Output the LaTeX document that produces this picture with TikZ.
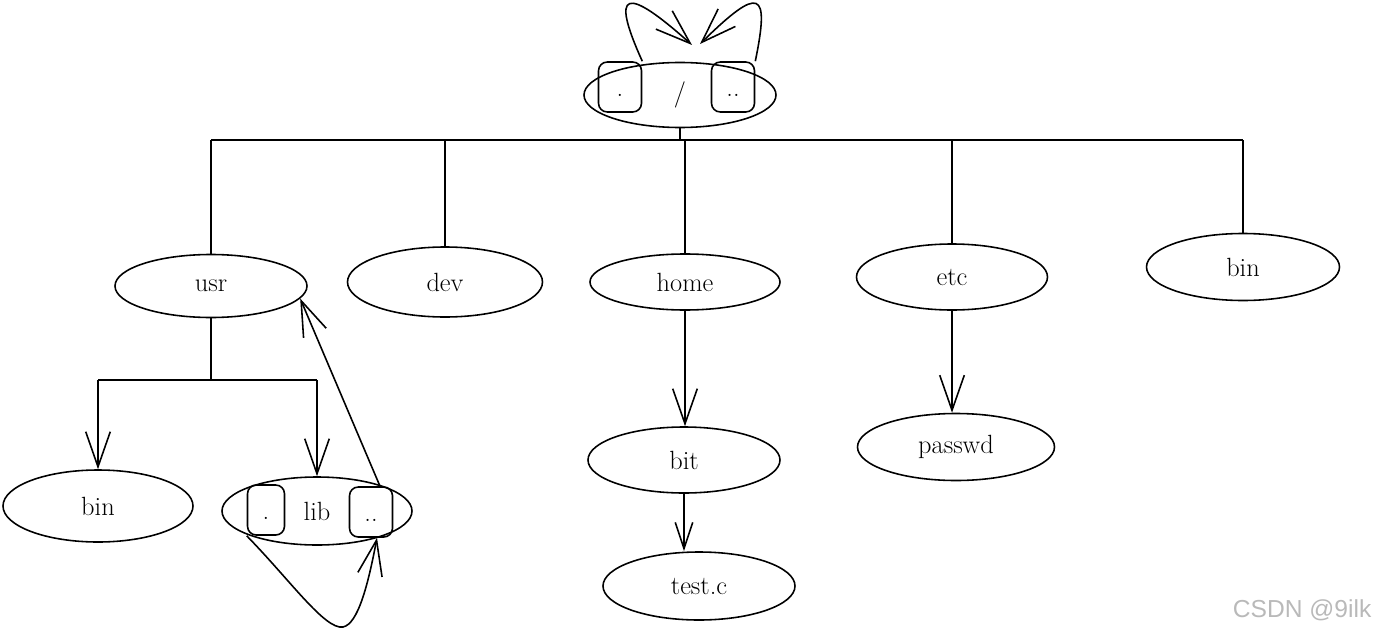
\documentclass[tikz,border=0pt]{standalone}
\usepackage{fontspec}
\newfontfamily\wmfont{Liberation Sans}
\usetikzlibrary{arrows.meta,shapes.geometric,calc}
\def\pxu{0.02cm}
\newcommand\lowdots[1]{\smash{\raisebox{-0.8ex}{#1}}}
\tikzset{
  dirnode/.style={ellipse, draw, line width=0.9pt, inner sep=0pt, minimum width=192*\pxu, minimum height=66*\pxu, font=\fontsize{15}{17}\selectfont},
  linkbox/.style={rectangle, rounded corners=5pt, draw, line width=0.9pt, minimum width=43*\pxu, minimum height=50*\pxu, inner sep=0pt, font=\fontsize{15}{17}\selectfont},
  tip/.style={-{Straight Barb[length=20pt,width=14pt]}},
  smalltip/.style={-{Straight Barb[length=15pt,width=10pt]}},
}
\begin{document}
\begin{tikzpicture}[x=0.02cm, y=-0.02cm, line width=0.9pt]
\useasboundingbox (0,0) rectangle (1382,635);

% root
\node[dirnode, minimum height=65*\pxu] (root) at (680,95) {/};
\node[linkbox] (rdot) at (620,87) {\lowdots{.}};
\node[linkbox] (rdotdot) at (733,87) {\lowdots{..}};
\coordinate (rtipL) at (692,45);
\coordinate (rtipR) at (700,44);
\draw[tip] (rdot.north east) .. controls (610,-10) and (625,-15) .. (rtipL);
\draw[tip] (rdotdot.north east) .. controls (770,-10) and (760,-15) .. (rtipR);

% first level
\node[dirnode, minimum height=63*\pxu] (usr) at (211,286) {usr};
\node[dirnode, minimum width=195*\pxu, minimum height=70*\pxu] (dev) at (445,282) {dev};
\node[dirnode, minimum width=190*\pxu, minimum height=56*\pxu] (home) at (685,282) {home};
\node[dirnode, minimum width=191*\pxu] (etc) at (952,277) {etc};
\node[dirnode, minimum width=193*\pxu, minimum height=67*\pxu] (binR) at (1243,267) {bin};

\coordinate (busy) at (0,140);
\draw (usr.north |- busy) -- (binR.north |- busy);
\draw (root.south) -- (root.south |- busy);
\foreach \n in {usr,dev,home,etc,binR}
  \draw (\n.north |- busy) -- (\n.north);

% usr subtree
\node[dirnode, minimum width=190*\pxu, minimum height=72*\pxu] (binL) at (98,506) {bin};
\node[dirnode, minimum width=190*\pxu, minimum height=68*\pxu] (lib) at (317,511) {lib};
\node[linkbox, minimum width=37*\pxu] (ldot) at (266,510) {\lowdots{.}};
\node[linkbox] (ldotdot) at (371,512) {\lowdots{..}};

\coordinate (sub) at (0,380);
\draw (usr.south) -- (usr.south |- sub);
\draw (binL.north |- sub) -- (lib.north |- sub);
\draw[tip] (binL.north |- sub) -- (binL.north);
\draw[tip] (lib.north |- sub) -- (lib.north);

\draw[tip] ([xshift=9*\pxu]ldotdot.north) -- (usr.-8);
\coordinate (loopbot) at (343,627);
\draw[tip] (ldot.south west) .. controls (290,580) and (325,630) .. (loopbot)
  .. controls (358,624) and (368,585) .. ([xshift=6*\pxu]ldotdot.south);

% home subtree
\node[dirnode, minimum height=66*\pxu] (bit) at (684,460) {bit};
\node[dirnode, minimum height=68*\pxu] (testc) at (699,586) {test.c};
\draw[tip] (home.south) -- (home.south |- bit.north);
\draw[smalltip] (bit.south) -- (bit.south |- testc.north);

% etc subtree
\node[dirnode, minimum width=197*\pxu, minimum height=67*\pxu] (passwd) at (956,447) {passwd};
\draw[tip] (etc.south) -- (etc.south |- passwd.north);

% watermark
\node[font=\wmfont\fontsize{14}{16}\selectfont, text=gray!55, anchor=east] (wm) at (1378,610) {CSDN @9ilk};
\end{tikzpicture}
\end{document}
